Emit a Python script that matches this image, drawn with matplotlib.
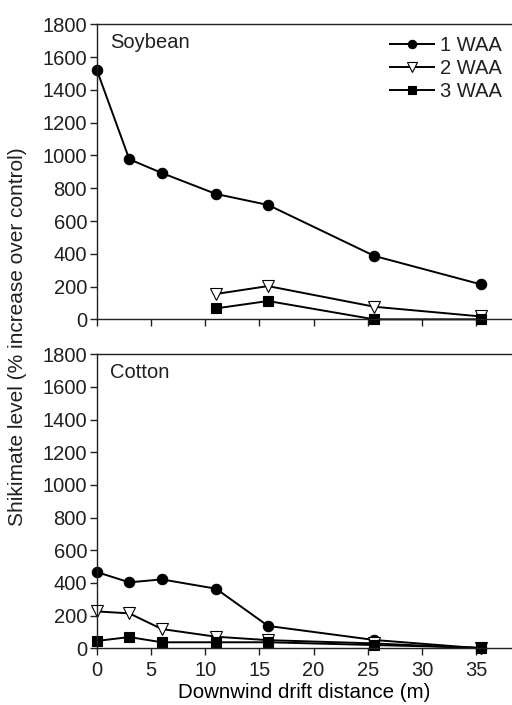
import matplotlib
matplotlib.use("Agg")
import matplotlib.pyplot as plt

plt.rcParams["font.family"] = ["Liberation Sans", "DejaVu Sans"]
plt.rcParams["font.size"] = 14.5
plt.rcParams["text.color"] = "#231f20"
plt.rcParams["xtick.color"] = "#231f20"
plt.rcParams["ytick.color"] = "#231f20"

distance = [0, 3, 6, 11, 15.8, 25.6, 35.4]

soy_1waa = [1522, 977, 893, 765, 698, 387, 214]
soy_2waa = [None, None, None, 155, 203, 77, 18]
soy_3waa = [None, None, None, 67, 112, 0, 0]

cot_1waa = [467, 404, 422, 365, 137, 51, 0]
cot_2waa = [226, 214, 118, 71, 50, 30, 0]
cot_3waa = [45, 69, 37, 37, 37, 20, 4]

series_labels = ["1 WAA", "2 WAA", "3 WAA"]
yticks = list(range(0, 1801, 200))
xticks = list(range(0, 36, 5))

styles = [
    dict(marker="o", mfc="black", ms=7.5),
    dict(marker="v", mfc="white", ms=8.5),
    dict(marker="s", mfc="black", ms=7),
]

fig = plt.figure(figsize=(5.12, 7.05), dpi=100)
ax_top = fig.add_axes([0.189, 0.547, 0.811, 0.4185])
ax_bot = fig.add_axes([0.189, 0.0804, 0.811, 0.417])


def draw(ax, data, name):
    for ys, lab, st in zip(data, series_labels, styles):
        xs = [x for x, y in zip(distance, ys) if y is not None]
        vs = [y for y in ys if y is not None]
        ax.plot(xs, vs, color="black", lw=1.4, mec="black", mew=0.8,
                label=lab, clip_on=False, **st)
    ax.set_xlim(0, 38.3)
    ax.set_ylim(0, 1800)
    ax.set_yticks(yticks)
    ax.set_xticks(xticks)
    ax.spines["right"].set_visible(False)
    for s in ax.spines.values():
        s.set_linewidth(1.0)
        s.set_color("#231f20")
    ax.tick_params(direction="out", length=5, width=1, labelsize=14.5, pad=2)
    ax.tick_params(axis="x", pad=4)
    ax.text(0.032, 0.937, name, transform=ax.transAxes, fontsize=14.5,
            va="center", ha="left")


draw(ax_top, [soy_1waa, soy_2waa, soy_3waa], "Soybean")
draw(ax_bot, [cot_1waa, cot_2waa, cot_3waa], "Cotton")
ax_top.tick_params(labelbottom=False)

ax_top.legend(loc="upper right", bbox_to_anchor=(1.005, 1.0), frameon=False,
              handlelength=2.2, handletextpad=0.3, labelspacing=0.2,
              markerscale=0.8, fontsize=14.5, borderaxespad=0.2)

ax_bot.set_xlabel("Downwind drift distance (m)", fontsize=14.8, labelpad=2)
fig.text(0.034, 0.522, "Shikimate level (% increase over control)",
         rotation=90, va="center", ha="center", fontsize=15)

fig.savefig("out.png", dpi=100)
